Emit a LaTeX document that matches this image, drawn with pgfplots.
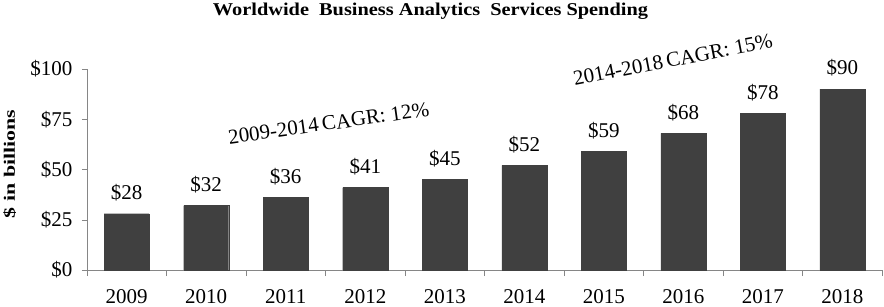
\documentclass[border=0pt]{standalone}
\usepackage{pgfplots}
\pgfplotsset{compat=1.18}
\usetikzlibrary{calc}
\usepackage{fontspec}
\setmainfont{Liberation Serif}
\definecolor{bardark}{HTML}{404040}
\definecolor{axgray}{HTML}{868686}
\begin{document}
\begin{tikzpicture}
\begin{axis}[
  scale only axis,
  width=795bp, height=201bp,
  xmin=-0.5, xmax=9.5, ymin=0, ymax=100,
  axis x line=bottom, axis y line=left,
  axis line style={axgray, -},
  clip=false,
  /pgf/number format/assume math mode=true,
  xtick={0,...,9},
  xticklabels={2009,2010,2011,2012,2013,2014,2015,2016,2017,2018},
  major x tick style={draw=none},
  minor xtick={-0.5,0.5,...,9.5},
  minor x tick style={axgray},
  minor tick length=6bp,
  ytick={0,25,50,75,100},
  yticklabels={\$0,\$25,\$50,\$75,\$100},
  y tick style={axgray},
  tick align=outside,
  major tick length=5bp,
  tick label style={font=\fontsize{21bp}{24bp}\selectfont},
  xticklabel style={anchor=base, yshift=-28bp},
  yticklabel style={xshift=-6bp},
  ybar, bar width=45bp,
  nodes near coords={\$\pgfmathprintnumber{\pgfplotspointmeta}},
  nodes near coords style={font=\fontsize{21bp}{24bp}\selectfont, yshift=9bp},
]
\addplot[fill=bardark, draw=bardark] coordinates {
(0,28) (1,32) (2,36) (3,41) (4,45) (5,52) (6,59) (7,68) (8,78) (9,90)};
\node[rotate=8, inner sep=0pt, font=\fontsize{21bp}{24bp}\selectfont] at (axis cs:2.54,73) {2009-2014\,CAGR: 12\%};
\node[rotate=11, inner sep=0pt, font=\fontsize{21bp}{24bp}\selectfont] at (axis cs:6.87,104.5) {2014-2018\,CAGR: 15\%};
\end{axis}
\node[anchor=base, inner sep=0pt, font=\bfseries] at ($(current axis.south west)+(343.5bp,255bp)$) {\resizebox{435bp}{12.5bp}{Worldwide\ \ Business Analytics\ \ Services\ Spending}};
\node[anchor=base, inner sep=0pt, rotate=90, font=\bfseries] at ($(current axis.south west)+(-72bp,106bp)$) {\resizebox{108bp}{11.5bp}{\$ in billions}};
\useasboundingbox ($(current axis.south west)+(-87bp,-34bp)$) rectangle ++(884bp,304bp);
\end{tikzpicture}
\end{document}
